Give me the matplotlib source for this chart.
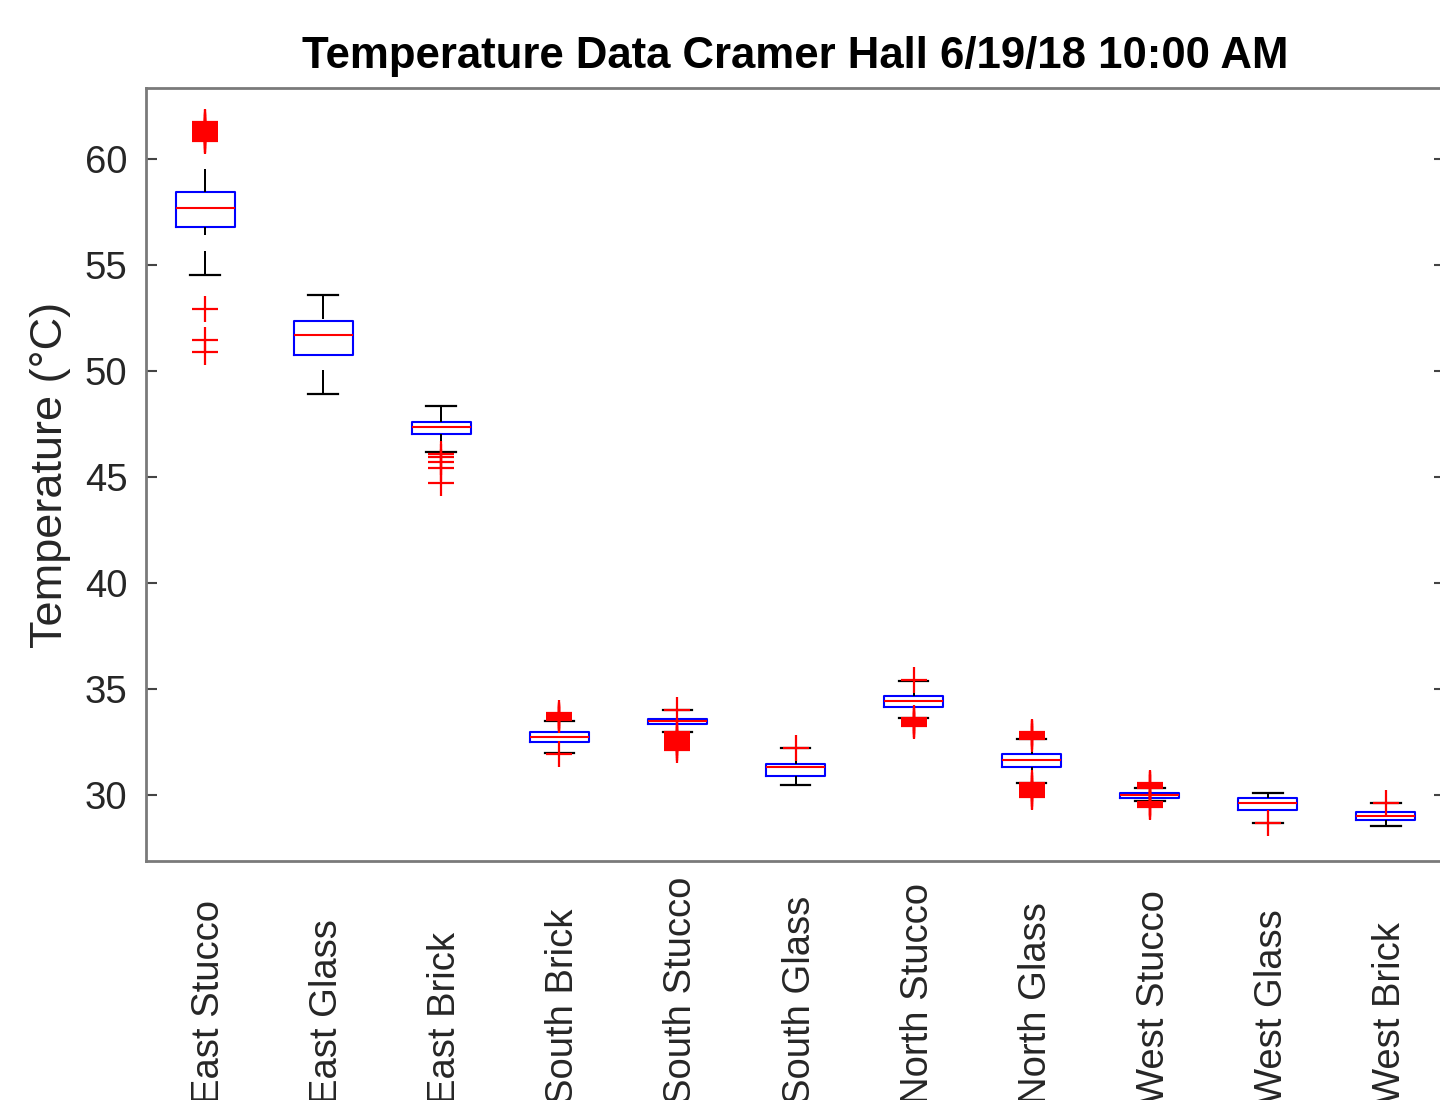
import matplotlib
matplotlib.use("Agg")
import matplotlib.pyplot as plt
from matplotlib.transforms import ScaledTranslation

plt.rcParams['font.family'] = ['Liberation Sans', 'DejaVu Sans']

categories = ['East Stucco', 'East Glass', 'East Brick', 'South Brick', 'South Stucco',
              'South Glass', 'North Stucco', 'North Glass', 'West Stucco', 'West Glass',
              'West Brick']
q1 = [56.80, 50.77, 47.03, 32.53, 33.35, 30.91, 34.18, 31.35, 29.86, 29.31, 28.83]
medians = [57.72, 51.71, 47.37, 32.75, 33.50, 31.35, 34.43, 31.65, 30.00, 29.62, 29.02]
q3 = [58.46, 52.37, 47.63, 32.99, 33.62, 31.46, 34.68, 31.93, 30.13, 29.89, 29.21]
whislo = [54.54, 48.95, 46.20, 32.00, 33.00, 30.47, 33.66, 30.60, 29.72, 28.70, 28.55]
whishi = [59.53, 53.60, 48.36, 33.52, 34.00, 32.23, 35.40, 32.67, 30.32, 30.13, 29.63]
fliers = [
    [50.93, 51.48, 52.96, 60.85, 60.92, 60.98, 61.05, 61.10, 61.16, 61.22, 61.28,
     61.33, 61.40, 61.46, 61.52, 61.58, 61.64, 61.70, 61.75],
    [],
    [46.12, 45.98, 45.70, 45.45, 44.72],
    [31.97, 33.55, 33.60, 33.65, 33.70, 33.75, 33.80, 33.87],
    [34.03, 32.15, 32.22, 32.30, 32.37, 32.45, 32.52, 32.60, 32.67, 32.75, 32.82,
     32.90, 32.97],
    [32.25],
    [35.42, 33.25, 33.30, 33.37, 33.44, 33.50, 33.57, 33.64],
    [32.67, 32.73, 32.80, 32.87, 32.93, 32.97, 29.90, 29.97, 30.05, 30.12, 30.20,
     30.28, 30.35, 30.42, 30.50, 30.58],
    [30.33, 30.40, 30.47, 30.53, 30.58, 29.43, 29.50, 29.57, 29.63, 29.70],
    [28.68],
    [29.65],
]
yticks = [30, 35, 40, 45, 50, 55, 60]
title = 'Temperature Data Cramer Hall 6/19/18 10:00 AM'
ylabel = 'Temperature (°C)'

stats = []
for i in range(len(categories)):
    stats.append(dict(med=medians[i], q1=q1[i], q3=q3[i], whislo=whislo[i],
                      whishi=whishi[i], fliers=fliers[i], label=categories[i]))

fig = plt.figure(figsize=(14.4, 11), dpi=100)
fig.patch.set_facecolor('white')
ax = fig.add_axes([146 / 1440, 1 - 861 / 1100, (1445 - 146) / 1440, (861 - 88.3) / 1100])

positions = list(range(1, len(categories) + 1))
res = ax.bxp(stats, positions=positions, widths=0.5,
             boxprops=dict(color='#0000ff', linewidth=1.5),
             medianprops=dict(color='#ff0000', linewidth=1.5),
             whiskerprops=dict(color='black', linewidth=1.44, linestyle=(0, (12, 8))),
             capprops=dict(color='black', linewidth=1.6),
             flierprops=dict(marker='+', markeredgecolor='#ff0000', markersize=19,
                             markeredgewidth=1.6, linestyle='none'))
for w in res['whiskers']:
    w.set_ydata(list(w.get_ydata())[::-1])
    w.set_xdata(list(w.get_xdata())[::-1])
# upper cap of the first box is not drawn in the reference
res['caps'][1].set_visible(False)

ax.set_xlim(0.5, len(categories) + 0.5)
ax.set_ylim(26.9, 63.35)
ax.set_yticks(yticks)
ax.set_yticklabels([str(t) for t in yticks])
ax.set_xticks(positions)
ax.set_xticklabels(categories)
ax.tick_params(axis='y', direction='in', left=True, right=True, length=8, width=1.5,
               color='#444444', labelsize=27.5, labelcolor='#262626', pad=13.5)
ax.tick_params(axis='x', length=0, labelsize=27.5, labelcolor='#262626', pad=175)
shift = ScaledTranslation(4 / 100, 0, fig.dpi_scale_trans)
for lab in ax.get_xticklabels():
    lab.set_rotation(90)
    lab.set_va('bottom')
    lab.set_ha('center')
    lab.set_transform(lab.get_transform() + shift)

for s in ax.spines.values():
    s.set_color('#7a7a7a')
    s.set_linewidth(2)

ax.set_title(title, fontsize=31.5, fontweight='bold', color='black', pad=14.5)
ax.set_ylabel(ylabel, fontsize=32.5, color='#262626', labelpad=10)

fig.savefig('out.png', dpi=100)
